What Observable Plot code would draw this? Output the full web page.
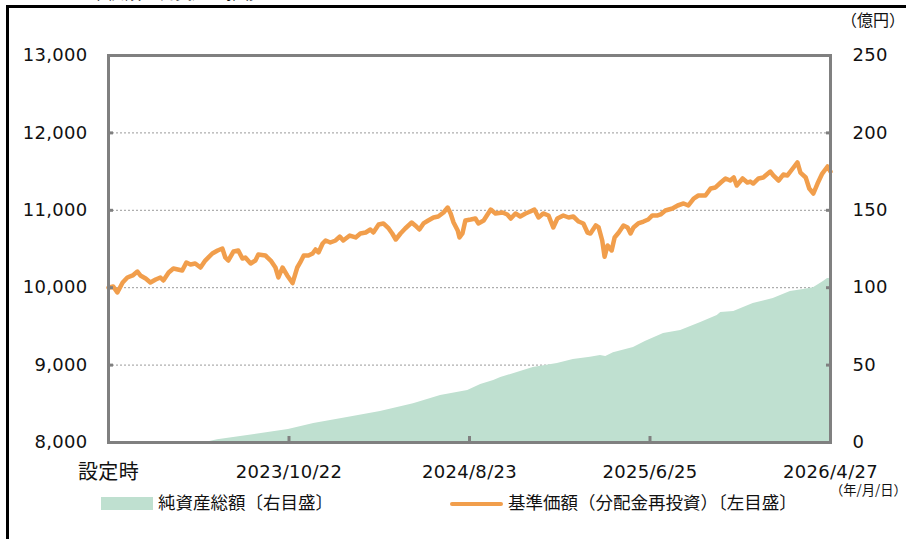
<!DOCTYPE html>
<html><head><meta charset="utf-8">
<script src="https://cdn.jsdelivr.net/npm/d3@7"></script>
<script src="https://cdn.jsdelivr.net/npm/@observablehq/plot@0.6"></script>
<style>
body{margin:0;background:#fff;width:906px;height:539px;overflow:hidden;position:relative;font-family:"DejaVu Sans","Noto Sans CJK JP",sans-serif;color:#111;}
#chart{position:absolute;left:0;top:0;}
.abs{position:absolute;white-space:nowrap;}
.lg{font-family:"Noto Sans CJK JP",sans-serif;font-size:17.5px;line-height:20px;color:#111;}
</style></head><body>
<div id="chart"></div>
<div class="abs" style="left:73px;top:-18px;font-family:'Noto Sans CJK JP';font-size:17px;line-height:20px;color:#111;">基準価額・純資産の推移</div>
<div class="abs" style="left:6px;top:5px;width:900px;height:3px;background:#000"></div>
<div class="abs" style="left:6px;top:5px;width:3px;height:534px;background:#000"></div>
<div class="abs" style="left:841px;top:9px;font-family:'Noto Sans CJK JP';font-size:16px;line-height:20px;">（億円）</div>
<div class="abs" style="left:830px;top:481px;font-family:'Noto Sans CJK JP';font-size:13.3px;line-height:18px;">（年/月/日）</div>
<div class="abs" style="left:101px;top:497px;width:52px;height:13px;background:#BFE0D0"></div>
<div class="abs lg" style="left:158px;top:492px;">純資産総額〔右目盛〕</div>
<div class="abs" style="left:450px;top:502px;width:53px;height:4px;border-radius:2px;background:#F19E4C"></div>
<div class="abs lg" style="left:508px;top:492px;">基準価額（分配金再投資）〔左目盛〕</div>
<script>
const navDates = ["2022-12-20","2022-12-28","2023-01-04","2023-01-13","2023-01-21","2023-01-30","2023-02-07","2023-02-12","2023-02-21","2023-03-01","2023-03-10","2023-03-18","2023-03-23","2023-04-01","2023-04-09","2023-04-24","2023-05-01","2023-05-08","2023-05-16","2023-05-25","2023-06-02","2023-06-14","2023-06-23","2023-07-01","2023-07-06","2023-07-11","2023-07-20","2023-07-28","2023-08-04","2023-08-09","2023-08-18","2023-08-26","2023-08-31","2023-09-12","2023-09-21","2023-09-29","2023-10-04","2023-10-11","2023-10-19","2023-10-28","2023-11-05","2023-11-10","2023-11-16","2023-11-24","2023-12-01","2023-12-06","2023-12-11","2023-12-18","2023-12-23","2023-12-31","2024-01-09","2024-01-16","2024-01-22","2024-02-02","2024-02-12","2024-02-20","2024-02-29","2024-03-08","2024-03-13","2024-03-22","2024-03-30","2024-04-08","2024-04-14","2024-04-20","2024-04-28","2024-05-06","2024-05-17","2024-05-23","2024-05-30","2024-06-06","2024-06-14","2024-06-23","2024-07-01","2024-07-10","2024-07-17","2024-07-22","2024-07-27","2024-08-03","2024-08-06","2024-08-11","2024-08-16","2024-08-25","2024-09-02","2024-09-07","2024-09-16","2024-09-28","2024-10-06","2024-10-18","2024-10-26","2024-11-01","2024-11-09","2024-11-17","2024-11-26","2024-12-04","2024-12-11","2024-12-18","2024-12-26","2025-01-04","2025-01-12","2025-01-19","2025-01-29","2025-02-07","2025-02-15","2025-02-24","2025-03-04","2025-03-11","2025-03-16","2025-03-25","2025-03-30","2025-04-05","2025-04-09","2025-04-14","2025-04-21","2025-04-26","2025-05-03","2025-05-11","2025-05-18","2025-05-23","2025-05-28","2025-06-05","2025-06-14","2025-06-22","2025-06-29","2025-07-08","2025-07-13","2025-07-21","2025-08-02","2025-08-11","2025-08-21","2025-08-29","2025-09-07","2025-09-15","2025-09-27","2025-10-06","2025-10-14","2025-10-23","2025-10-31","2025-11-08","2025-11-14","2025-11-19","2025-11-29","2025-12-07","2025-12-12","2025-12-17","2025-12-26","2026-01-03","2026-01-15","2026-01-20","2026-01-29","2026-02-06","2026-02-13","2026-02-22","2026-03-02","2026-03-07","2026-03-16","2026-03-22","2026-03-29","2026-04-05","2026-04-13","2026-04-22","2026-04-27"];
const navValues = [10000,10015,9938,10067,10132,10158,10209,10158,10119,10067,10106,10132,10093,10196,10248,10222,10326,10300,10313,10261,10351,10442,10481,10506,10390,10351,10468,10481,10377,10390,10313,10351,10429,10416,10351,10261,10132,10261,10158,10060,10261,10326,10416,10416,10442,10494,10455,10571,10610,10584,10610,10661,10610,10674,10649,10700,10713,10752,10713,10817,10830,10765,10700,10623,10700,10765,10842,10804,10752,10830,10868,10907,10920,10972,11036,10959,10842,10739,10649,10700,10868,10881,10894,10830,10868,11010,10959,10972,10946,10894,10959,10920,10959,10984,11010,10907,10959,10933,10778,10894,10933,10907,10920,10855,10830,10713,10700,10804,10778,10610,10400,10545,10481,10649,10713,10804,10778,10700,10778,10830,10855,10881,10933,10933,10946,10997,11023,11062,11088,11062,11152,11191,11191,11282,11295,11359,11411,11385,11424,11320,11411,11359,11372,11346,11411,11424,11501,11450,11385,11462,11450,11540,11618,11488,11424,11282,11217,11346,11475,11566,11500];

const assetDates = ["2023-06-02","2023-06-23","2023-08-13","2023-10-21","2023-12-03","2024-01-29","2024-03-25","2024-05-20","2024-07-05","2024-08-20","2024-09-11","2024-10-03","2024-10-15","2024-11-12","2024-12-09","2025-01-19","2025-02-15","2025-03-16","2025-04-02","2025-04-11","2025-04-24","2025-05-28","2025-06-17","2025-07-18","2025-08-16","2025-09-19","2025-10-17","2025-10-23","2025-11-14","2025-12-17","2026-01-20","2026-02-18","2026-03-12","2026-03-29","2026-04-15","2026-04-22","2026-04-27"];
const assetValues = [0,1.7,4.5,8.4,12.3,16.2,20,25,30.4,33.6,37.5,40,42,45.2,48.5,51,53.6,55,56.2,55.6,58,61.4,65.2,70.4,72.4,77.5,82,84,84.6,89.8,93,97.5,98.8,100,104,106,106];

const startDate = "2022-12-20";
const endDate = "2026-04-27";
const xTickDates = ["2023-10-22","2024-08-23","2025-06-25","2026-04-27"];
const xTickLabels = ["2023/10/22","2024/8/23","2025/6/25","2026/4/27"];
const startLabel = "設定時";
const leftTicks = [8000,9000,10000,11000,12000,13000];
const rightTicks = [0,50,100,150,200,250];

// right axis (億円) is mapped onto the left scale: 0 → 8000, 250 → 13000
const leftMin = 8000, leftMax = 13000, rightMax = 250;
const toLeft = v => leftMin + v * (leftMax - leftMin) / rightMax;
const toRight = d => (d - leftMin) * rightMax / (leftMax - leftMin);

const nav = navDates.map((d, i) => ({date: new Date(d), value: navValues[i]}));
const assets = assetDates.map((d, i) => ({date: new Date(d), value: assetValues[i]}));
const tickDates = xTickDates.map(d => new Date(d));
const labelOf = new Map(tickDates.map((d, i) => [+d, xTickLabels[i]]));
const innerTicks = leftTicks.slice(1, -1);

const chart = Plot.plot({
  width: 906,
  height: 539,
  marginLeft: 108,
  marginRight: 76,
  marginTop: 55,
  marginBottom: 97,
  style: {fontFamily: '"DejaVu Sans","Noto Sans CJK JP",sans-serif', fontSize: "18px", color: "#111", background: "transparent", overflow: "visible", letterSpacing: "0.3px"},
  x: {type: "utc", domain: [new Date(startDate), new Date(endDate)], axis: null},
  y: {domain: [leftMin, leftMax], axis: null},
  marks: [
    Plot.gridY(innerTicks, {stroke: "#9a9a9a", strokeOpacity: 1, strokeWidth: 1, strokeDasharray: "2,2"}),
    Plot.areaY(assets, {x: "date", y1: leftMin, y2: d => toLeft(d.value), fill: "#BFE0D0"}),
    Plot.lineY(nav, {x: "date", y: "value", stroke: "#F19E4C", strokeWidth: 4.5, strokeLinejoin: "round"}),
    Plot.frame({stroke: "#808080", strokeWidth: 3}),
    Plot.axisY({anchor: "left", ticks: innerTicks, tickSize: 5, tickFormat: () => "", label: null, dx: 5, stroke: "#808080", strokeWidth: 3}),
    Plot.axisY({anchor: "right", ticks: innerTicks, tickSize: 5, tickFormat: () => "", label: null, dx: -5, stroke: "#808080", strokeWidth: 3}),
    Plot.axisX({anchor: "bottom", ticks: tickDates, tickSize: 6, tickFormat: () => "", label: null, dy: -6, stroke: "#808080", strokeWidth: 3}),
    Plot.axisY({anchor: "left", ticks: leftTicks, tickSize: 0, tickPadding: 21, tickFormat: d3.format(","), label: null, fill: "#111"}),
    Plot.axisY({anchor: "right", ticks: rightTicks.map(toLeft), tickSize: 0, tickPadding: 22, tickFormat: d => String(Math.round(toRight(d))), label: null, fill: "#111", textAnchor: "start"}),
    Plot.axisX({anchor: "bottom", ticks: tickDates, tickSize: 0, tickPadding: 23, tickFormat: d => labelOf.get(+d), label: null, fill: "#111"}),
    Plot.axisX({anchor: "bottom", ticks: [new Date(startDate)], tickSize: 0, tickPadding: 22, tickFormat: () => startLabel, label: null, fontSize: 20, fill: "#111"})
  ]
});
document.getElementById("chart").appendChild(chart);
</script>
</body></html>
